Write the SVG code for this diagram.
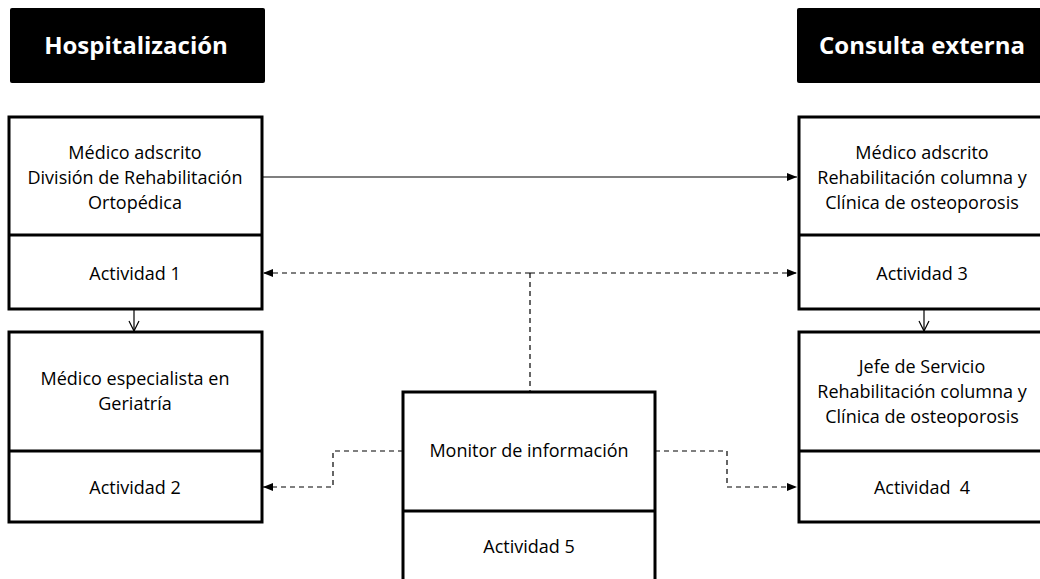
<svg xmlns="http://www.w3.org/2000/svg" width="1040" height="579" viewBox="0 0 1040 579">
<defs>
<style>
.hdr{fill:#000}
.hdrt{fill:#fff;font-family:"Open Sans","Liberation Sans",sans-serif;font-weight:bold;font-size:24px;text-anchor:middle}
.box{fill:#fff;stroke:#000;stroke-width:3}
.t{fill:#000;font-family:"Open Sans","Liberation Sans",sans-serif;font-size:18px;text-anchor:middle}
.c{fill:none;stroke:#000;stroke-width:1.2}
.d{fill:none;stroke:#000;stroke-width:1.2;stroke-dasharray:5 4}
</style>
<marker id="ah" viewBox="0 0 10 10" refX="10" refY="5" markerWidth="10" markerHeight="10" markerUnits="userSpaceOnUse" orient="auto">
<path d="M0,1 L10,5 L0,9 Z" fill="#000"/>
</marker>
<marker id="av" viewBox="0 0 12 12" refX="11" refY="6" markerWidth="12" markerHeight="12" markerUnits="userSpaceOnUse" orient="auto">
<path d="M1,1 L11,6 L1,11" fill="none" stroke="#000" stroke-width="1.2"/>
</marker>
</defs>
<rect width="1040" height="579" fill="#fff"/>
<g id="hdr-hosp">
<rect class="hdr" x="10" y="8" width="255" height="75" rx="2"/>
<text class="hdrt" x="136" y="54">Hospitalización</text>
</g>
<g id="hdr-consulta">
<rect class="hdr" x="797" y="8" width="255" height="75" rx="2"/>
<text class="hdrt" x="922" y="54">Consulta externa</text>
</g>
<g id="connectors">
<line class="c" x1="262" y1="177" x2="797" y2="177" marker-end="url(#ah)"/>
<line class="c" x1="134" y1="309" x2="134" y2="331" marker-end="url(#av)"/>
<line class="c" x1="924" y1="309" x2="924" y2="331" marker-end="url(#av)"/>
<line class="d" x1="530" y1="273" x2="263" y2="273" marker-end="url(#ah)"/>
<line class="d" x1="530" y1="273" x2="797" y2="273" marker-end="url(#ah)"/>
<line class="d" x1="530" y1="273" x2="530" y2="392"/>
<polyline class="d" points="403,451 333,451 333,487 263,487" marker-end="url(#ah)"/>
<polyline class="d" points="655,451 727,451 727,487 797,487" marker-end="url(#ah)"/>
</g>
<g id="node-medico-adscrito-hosp">
<rect class="box" x="9" y="117" width="253" height="192"/>
<line class="box" x1="9" y1="235" x2="262" y2="235"/>
<text class="t" x="135" y="159">Médico adscrito</text>
<text class="t" x="135" y="184">División de Rehabilitación</text>
<text class="t" x="135" y="209">Ortopédica</text>
<text class="t" x="135" y="280">Actividad 1</text>
</g>
<g id="node-geriatria">
<rect class="box" x="9" y="332" width="253" height="190"/>
<line class="box" x1="9" y1="451" x2="262" y2="451"/>
<text class="t" x="135" y="385">Médico especialista en</text>
<text class="t" x="135" y="410">Geriatría</text>
<text class="t" x="135" y="494">Actividad 2</text>
</g>
<g id="node-medico-adscrito-consulta">
<rect class="box" x="799" y="117" width="253" height="192"/>
<line class="box" x1="799" y1="235" x2="1052" y2="235"/>
<text class="t" x="922" y="159">Médico adscrito</text>
<text class="t" x="922" y="184">Rehabilitación columna y</text>
<text class="t" x="922" y="209">Clínica de osteoporosis</text>
<text class="t" x="922" y="280">Actividad 3</text>
</g>
<g id="node-jefe">
<rect class="box" x="799" y="332" width="253" height="190"/>
<line class="box" x1="799" y1="451" x2="1052" y2="451"/>
<text class="t" x="922" y="373">Jefe de Servicio</text>
<text class="t" x="922" y="398">Rehabilitación columna y</text>
<text class="t" x="922" y="423">Clínica de osteoporosis</text>
<text class="t" x="922" y="494" xml:space="preserve">Actividad  4</text>
</g>
<g id="node-monitor">
<rect class="box" x="403" y="392" width="252" height="200"/>
<line class="box" x1="403" y1="511" x2="655" y2="511"/>
<text class="t" x="529" y="457">Monitor de información</text>
<text class="t" x="529" y="553">Actividad 5</text>
</g>
</svg>
